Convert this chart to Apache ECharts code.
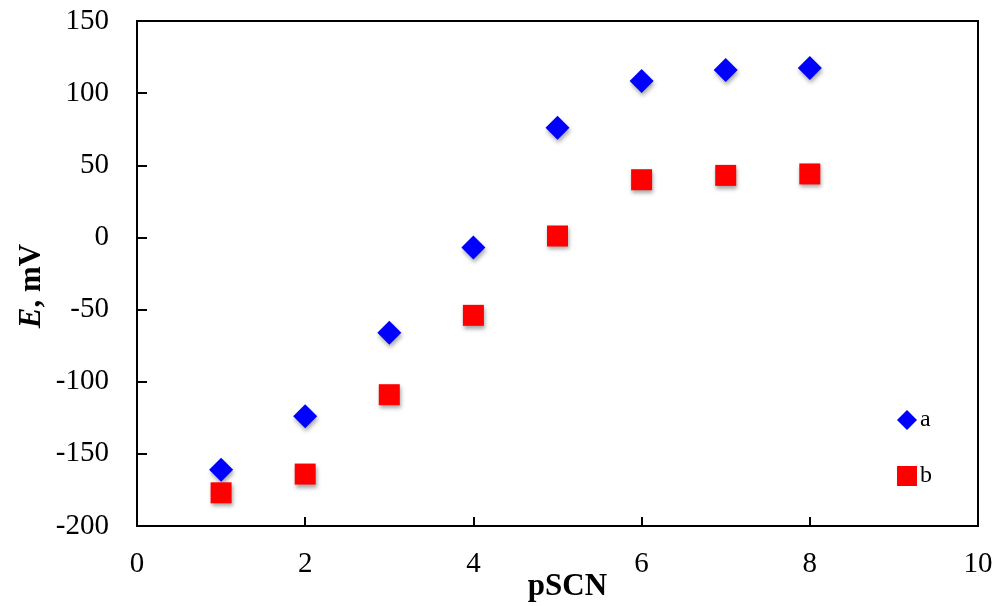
<!DOCTYPE html>
<html>
<head>
<meta charset="utf-8">
<script src="https://cdn.jsdelivr.net/npm/echarts@6/dist/echarts.min.js"></script>
<style>html,body{margin:0;padding:0;background:#fff}#c{width:999px;height:606px}</style>
</head>
<body>
<div id="c"></div>
<script>
const pSCN = [1, 2, 3, 4, 5, 6, 7, 8];
const seriesA = [-161, -124, -66, -7, 76, 108.5, 116, 117.5];
const seriesB = [-177, -164, -109, -54, 1, 40, 43, 44];
const seriesNames = ['a', 'b'];
const xTicks = [0, 2, 4, 6, 8, 10];
const yTicks = [-200, -150, -100, -50, 0, 50, 100, 150];

const font = '"Liberation Serif", "Times New Roman", serif';
const shadow = { shadowColor: 'rgba(0,0,0,0.35)', shadowBlur: 4, shadowOffsetX: 1, shadowOffsetY: 3, opacity: 1 };
const chart = echarts.init(document.getElementById('c'), null, { renderer: 'canvas' });
chart.setOption({
  animation: false,
  backgroundColor: '#fff',
  grid: { left: 137, right: 21, top: 21, bottom: 80, show: true, borderColor: '#000', borderWidth: 2,
          containLabel: false, outerBoundsMode: 'none' },
  xAxis: {
    type: 'value', min: xTicks[0], max: xTicks[xTicks.length - 1], interval: 2,
    splitLine: { show: false },
    axisLine: { onZero: false, lineStyle: { color: '#000', width: 2 } },
    axisTick: { inside: true, length: 9, lineStyle: { color: '#000', width: 2 } },
    axisLabel: { color: '#000', fontFamily: font, fontSize: 29, margin: 24 },
    name: 'pSCN', nameLocation: 'middle', nameGap: 45, nameMoveOverlap: false,
    nameTextStyle: { color: '#000', fontFamily: font, fontSize: 31, fontWeight: 'bold', padding: [0, 0, 0, 20] }
  },
  yAxis: {
    type: 'value', min: yTicks[0], max: yTicks[yTicks.length - 1], interval: 50,
    splitLine: { show: false },
    axisLine: { onZero: false, lineStyle: { color: '#000', width: 2 } },
    axisTick: { inside: true, length: 10, lineStyle: { color: '#000', width: 2 } },
    axisLabel: { color: '#000', fontFamily: font, fontSize: 29, margin: 28 },
    name: '{i|E}{n|, mV}', nameLocation: 'middle', nameGap: 90, nameMoveOverlap: false,
    nameTextStyle: {
      color: '#000', fontFamily: font, fontSize: 31, fontWeight: 'bold', padding: [0, 25, 0, 0],
      rich: {
        i: { fontFamily: font, fontSize: 31, fontWeight: 'bold', fontStyle: 'italic', color: '#000' },
        n: { fontFamily: font, fontSize: 31, fontWeight: 'bold', color: '#000' }
      }
    }
  },
  legend: [
    { data: [seriesNames[0]], left: 892, top: 403, orient: 'vertical', itemWidth: 20, itemHeight: 20, itemGap: 4,
      textStyle: { color: '#000', fontFamily: font, fontSize: 24, padding: [0, 0, 0, -2] } },
    { data: [seriesNames[1]], left: 892, top: 459, orient: 'vertical', itemWidth: 20, itemHeight: 20, itemGap: 4,
      textStyle: { color: '#000', fontFamily: font, fontSize: 24, padding: [0, 0, 0, -2] } }
  ],
  series: [
    { name: seriesNames[0], type: 'scatter', symbol: 'diamond', symbolSize: 24,
      itemStyle: Object.assign({ color: '#0000ff' }, shadow),
      data: pSCN.map((x, i) => [x, seriesA[i]]) },
    { name: seriesNames[1], type: 'scatter', symbol: 'rect', symbolSize: 21,
      itemStyle: Object.assign({ color: '#ff0000' }, shadow),
      data: pSCN.map((x, i) => [x, seriesB[i]]) }
  ]
});
</script>
</body>
</html>
